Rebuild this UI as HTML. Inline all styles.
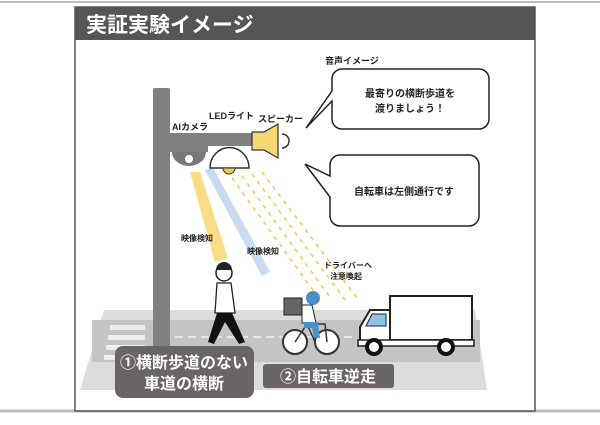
<!DOCTYPE html>
<html><head><meta charset="utf-8"><style>
body{margin:0;background:#fff;}
svg text{font-family:"Liberation Sans","Noto Sans CJK JP",sans-serif;font-weight:bold;}
</style></head><body>
<svg width="600" height="420" viewBox="0 0 600 420" xmlns="http://www.w3.org/2000/svg">
<rect width="600" height="420" fill="#fff"/>
<line x1="0" y1="2" x2="600" y2="2" stroke="#bbb" stroke-width="2"/>
<line x1="0" y1="411" x2="600" y2="411" stroke="#bbb" stroke-width="3"/>
<rect x="75" y="7" width="460" height="404" fill="#fff" stroke="#555" stroke-width="1.5"/>
<rect x="75" y="7" width="460" height="33" fill="#555"/>
<text x="86" y="32" font-size="21" fill="#fff">実証実験イメージ</text>
<!-- road -->
<polygon points="104,310 475,310 487,390 80,390" fill="#dcdcdc"/>
<rect x="92" y="320" width="388" height="42" fill="#c4c4c4"/>
<g fill="#eee"><rect x="110" y="325" width="35" height="5"/><rect x="108" y="335" width="37" height="5"/><rect x="106" y="345" width="39" height="5"/><rect x="104" y="355" width="41" height="5"/></g>
<line x1="175" y1="337" x2="355" y2="337" stroke="#eee" stroke-width="1.5" stroke-dasharray="8,5"/>
<!-- beams -->
<polygon points="190,172 200,172 228,258 215,262" fill="#f7d774" opacity="0.85"/>
<polygon points="205,170 213,168 270,272 262,276" fill="#c8dbee"/>
<g stroke="#f2c94c" stroke-width="1.5" stroke-dasharray="4,5">
<line x1="232" y1="178" x2="320" y2="300"/><line x1="242" y1="176" x2="332" y2="300"/><line x1="252" y1="174" x2="345" y2="300"/><line x1="262" y1="172" x2="357" y2="298"/></g>
<!-- pole -->
<rect x="153" y="88" width="17" height="265" fill="#808080" rx="2"/>
<rect x="170" y="133" width="84" height="13" fill="#808080"/>
<rect x="170" y="146" width="38" height="6" fill="#808080"/>
<path d="M172,152 h34 a17,14 0 0 1 -34,0z" fill="#777"/>
<circle cx="189" cy="159" r="4" fill="#fff"/>
<path d="M210,168 a19,20 0 0 1 39,0z" fill="#fff" stroke="#333" stroke-width="1.5"/>
<path d="M223,168 a6,6 0 0 0 12,0z" fill="#f2c94c" stroke="#333"/>
<polygon points="252,132 264,132 278,124 278,158 264,150 252,150" fill="#f7d774" stroke="#333" stroke-width="1.2"/>
<path d="M282,134 a7,7 0 0 1 0,14" fill="none" stroke="#333" stroke-width="1.5"/>
<text x="172" y="130" font-size="9" fill="#222">AIカメラ</text>
<text x="209" y="119" font-size="9" fill="#222">LEDライト</text>
<text x="258" y="122" font-size="9" fill="#222">スピーカー</text>
<text x="325" y="64" font-size="9" fill="#222">音声イメージ</text>
<!-- bubbles -->
<path d="M342,69 h137 a10,10 0 0 1 10,10 v40 a10,10 0 0 1 -10,10 h-137 a10,10 0 0 1 -10,-10 v-18 l-26,27 l26,-37 v-12 a10,10 0 0 1 10,-10z" fill="#fff" stroke="#222" stroke-width="1.5"/>
<text x="410" y="97" font-size="10" text-anchor="middle" fill="#222">最寄りの横断歩道を</text>
<text x="410" y="112" font-size="10" text-anchor="middle" fill="#222">渡りましょう！</text>
<path d="M340,155 h129 a10,10 0 0 1 10,10 v51 a10,10 0 0 1 -10,10 h-129 a10,10 0 0 1 -10,-10 v-19 l-25,-33 l25,12 v-11 a10,10 0 0 1 10,-10z" fill="#fff" stroke="#222" stroke-width="1.5"/>
<text x="404" y="195" font-size="10" text-anchor="middle" fill="#222">自転車は左側通行です</text>
<text x="181" y="241" font-size="8" fill="#222">映像検知</text>
<text x="247" y="254" font-size="8" fill="#222">映像検知</text>
<text x="324" y="268" font-size="8" fill="#222">ドライバーへ</text>
<text x="330" y="279" font-size="8" fill="#222">注意喚起</text>
<!-- walker -->
<circle cx="224" cy="273" r="8" fill="#fff" stroke="#222" stroke-width="1.5"/>
<path d="M216,270 a8,8 0 0 1 16,0z" fill="#222"/>
<path d="M217,283 h14 l4,30 h-20z" fill="#fff" stroke="#222" stroke-width="1.3"/>
<polygon points="217,313 232,313 245,342 239,344 225,322 214,344 208,342" fill="#111"/>
<!-- cyclist -->
<circle cx="295" cy="342" r="12" fill="#fff" stroke="#333" stroke-width="2"/>
<circle cx="327" cy="342" r="12" fill="#fff" stroke="#333" stroke-width="2"/>
<path d="M295,342 l12,-18 l18,0 l2,18 M307,324 l8,18" fill="none" stroke="#333" stroke-width="1.5"/>
<rect x="284" y="298" width="18" height="17" fill="#666" stroke="#222"/>
<path d="M302,305 h10 l4,18 h-14z" fill="#fff" stroke="#222"/>
<path d="M304,322 h14 l2,16 h-6 l-2,-10 h-8z" fill="#4a90c8"/>
<circle cx="313" cy="298" r="7" fill="#4a90c8"/>
<!-- truck -->
<rect x="390" y="296" width="82" height="44" fill="#fff" stroke="#222" stroke-width="2"/>
<path d="M390,310 h-20 l-10,17 v18 h30z" fill="#fff" stroke="#222" stroke-width="2"/>
<path d="M372,314 h14 v12 h-20z" fill="#8fc2e8" stroke="#222"/>
<rect x="358" y="340" width="116" height="6" fill="#fff" stroke="#222" stroke-width="1.5"/>
<circle cx="374" cy="347" r="7" fill="#fff" stroke="#111" stroke-width="4"/>
<circle cx="446" cy="347" r="7" fill="#fff" stroke="#111" stroke-width="4"/>
<!-- labels -->
<rect x="115" y="346" width="139" height="52" rx="8" fill="#6b6464"/>
<text x="184" y="368" font-size="16" text-anchor="middle" fill="#fff">①横断歩道のない</text>
<text x="184" y="389" font-size="16" text-anchor="middle" fill="#fff">車道の横断</text>
<rect x="263" y="364" width="131" height="24" rx="3" fill="#6b6464"/>
<text x="328" y="382" font-size="16" text-anchor="middle" fill="#fff">②自転車逆走</text>
</svg>
</body></html>
